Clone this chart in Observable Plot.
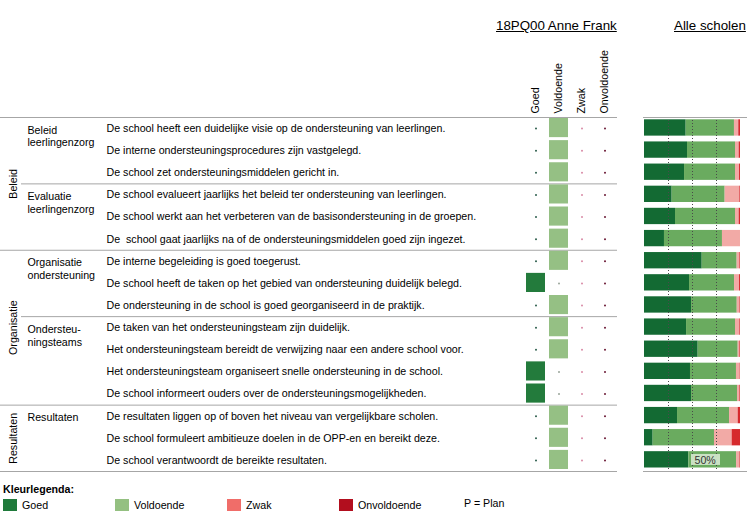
<!DOCTYPE html>
<html>
<head>
<meta charset="utf-8">
<script src="https://cdn.jsdelivr.net/npm/d3@7"></script>
<script src="https://cdn.jsdelivr.net/npm/@observablehq/plot@0.6"></script>
<style>
  html, body { margin: 0; padding: 0; background: #fff; }
  body { font-family: "Liberation Sans", Arial, sans-serif; color: #000; }
  #wrap { position: relative; width: 747px; height: 524px; overflow: hidden; }
  .abs { position: absolute; white-space: nowrap; }
  .title { font-size: 13.33px; text-decoration: underline; line-height: 15px; }
  .lg { font-size: 10.67px; line-height: 12px; }
  .sw { position: absolute; width: 14px; height: 12px; }
</style>
</head>
<body>
<div id="wrap"></div>
<script>
// ---------- data ----------
const categories = ["Goed", "Voldoende", "Zwak", "Onvoldoende"];

const items = [
  "De school heeft een duidelijke visie op de ondersteuning van leerlingen.",
  "De interne ondersteuningsprocedures zijn vastgelegd.",
  "De school zet ondersteuningsmiddelen gericht in.",
  "De school evalueert jaarlijks het beleid ter ondersteuning van leerlingen.",
  "De school werkt aan het verbeteren van de basisondersteuning in de groepen.",
  "De\u00a0 school gaat jaarlijks na of de ondersteuningsmiddelen goed zijn ingezet.",
  "De interne begeleiding is goed toegerust.",
  "De school heeft de taken op het gebied van ondersteuning duidelijk belegd.",
  "De ondersteuning in de school is goed georganiseerd in de praktijk.",
  "De taken van het ondersteuningsteam zijn duidelijk.",
  "Het ondersteuningsteam bereidt de verwijzing naar een andere school voor.",
  "Het ondersteuningsteam organiseert snelle ondersteuning in de school.",
  "De school informeert ouders over de ondersteuningsmogelijkheden.",
  "De resultaten liggen op of boven het niveau van vergelijkbare scholen.",
  "De school formuleert ambitieuze doelen in de OPP-en en bereikt deze.",
  "De school verantwoordt de bereikte resultaten."
];

const themes = [
  { label: "Beleid", start: 0, end: 6 },
  { label: "Organisatie", start: 6, end: 13 },
  { label: "Resultaten", start: 13, end: 16 }
];

const subthemes = [
  { label: "Beleid\nleerlingenzorg", start: 0, end: 3 },
  { label: "Evaluatie\nleerlingenzorg", start: 3, end: 6 },
  { label: "Organisatie\nondersteuning", start: 6, end: 9 },
  { label: "Ondersteu-\nningsteams", start: 9, end: 13 },
  { label: "Resultaten", start: 13, end: 16 }
];

// score of the school (18PQ00 Anne Frank) per item
const schoolScore = [
  "Voldoende", "Voldoende", "Voldoende", "Voldoende", "Voldoende", "Voldoende",
  "Voldoende", "Goed", "Voldoende", "Voldoende", "Voldoende", "Goed", "Goed",
  "Voldoende", "Voldoende", "Voldoende"
];

// distribution over all schools (%)
const goedPct        = [43.4, 44.8, 41.7, 28.8, 32.3, 20.8, 60.1, 46.9, 49.0, 43.8, 55.9, 47.9, 49.0, 34.4,  9.0, 46.2];
const voldoendePct   = [50.3, 50.0, 53.1, 55.2, 62.5, 60.4, 36.4, 46.9, 47.6, 51.0, 41.7, 47.9, 47.9, 54.2, 63.9, 49.7];
const zwakPct        = [ 4.5,  3.8,  4.2, 15.3,  3.8, 18.8,  2.8,  5.2,  2.8,  4.5,  1.7,  3.8,  2.4,  9.0, 18.4,  3.5];
const onvoldoendePct = [ 1.8,  1.4,  1.0,  0.7,  1.4,  0.0,  0.7,  1.0,  0.6,  0.7,  0.7,  0.4,  0.7,  2.4,  8.7,  0.6];

const gridTicks = [25, 50, 75];
const halfLabel = { x: 50, row: 15, label: "50%" };

// colours
const squareColor = { Goed: "#237b3c", Voldoende: "#95c084", Zwak: "#f06d69", Onvoldoende: "#b20e1e" };
const dotColor    = { Goed: "#2d5e4c", Voldoende: "#9aa59a", Zwak: "#d98ba6", Onvoldoende: "#6a1834" };
const barColor    = { Goed: "#136a33", Voldoende: "#6aab5f", Zwak: "#f2aaa6", Onvoldoende: "#d62a2d" };
const legendColor = { Goed: "#1f7a3b", Voldoende: "#94c081", Zwak: "#f06d69", Onvoldoende: "#b20e1e" };

// ---------- derived tables ----------
const rows = items.map((text, i) => ({ i, text }));
const cells = rows.flatMap(r => categories.map(c => ({ i: r.i, cat: c, on: schoolScore[r.i] === c })));
const pctSeries = [goedPct, voldoendePct, zwakPct, onvoldoendePct];
const stacked = rows.flatMap(r => {
  let acc = 0;
  return categories.map((c, k) => {
    const v = pctSeries[k][r.i];
    const o = { i: r.i, cat: c, x1: acc, x2: acc + v };
    acc += v;
    return o;
  });
});
const themeBounds = [...new Set(themes.flatMap(t => [t.start, t.end]))];
const subBounds = subthemes.map(s => s.start).filter(s => !themeBounds.includes(s));

const FONT = '"Liberation Sans", Arial, sans-serif';
const H = 475, MT = 117, MB = 4;

// ---------- left: labels + school matrix ----------
const left = Plot.plot({
  width: 620, height: H,
  marginTop: MT, marginBottom: MB, marginLeft: 0, marginRight: 3,
  style: { fontFamily: FONT, fontSize: "10.67px", color: "#000", background: "transparent", overflow: "visible" },
  x: { type: "band", domain: categories, range: [523.8, 617], padding: 0, axis: "top",
       tickSize: 0, tickRotate: -90, tickPadding: 4, label: null },
  y: { domain: [0, 16], reverse: true, axis: null },
  color: { type: "identity" },
  marks: [
    Plot.ruleY(themeBounds, { y: d => d, stroke: "#a6a6a6", strokeWidth: 1 }),
    Plot.ruleY(subBounds, { y: d => d, stroke: "#a6a6a6", strokeWidth: 1, insetLeft: 21 }),
    Plot.text(themes, { y: d => (d.start + d.end) / 2, text: "label", rotate: -90,
      frameAnchor: "left", textAnchor: "middle", lineAnchor: "middle", dx: 13, fill: "#000" }),
    Plot.text(subthemes, { y: d => d.start + 0.5, text: "label", frameAnchor: "left", dx: 27,
      textAnchor: "start", lineAnchor: "top", dy: -4, lineHeight: 1.2, fill: "#000" }),
    Plot.text(rows, { y: d => d.i + 0.5, text: "text", frameAnchor: "left", dx: 106,
      textAnchor: "start", fill: "#000" }),
    Plot.barY(cells.filter(d => d.on), { x: "cat", y1: "i", y2: d => d.i + 1,
      fill: d => squareColor[d.cat], insetTop: 1, insetBottom: 2, insetLeft: 2, insetRight: 2 }),
    Plot.dot(cells.filter(d => !d.on), { x: "cat", y: d => d.i + 0.5, r: 1,
      fill: d => dotColor[d.cat], stroke: null })
  ]
});

// ---------- right: all schools stacked bars ----------
const right = Plot.plot({
  width: 127, height: H,
  marginTop: MT, marginBottom: MB, marginLeft: 24, marginRight: 7,
  style: { fontFamily: FONT, fontSize: "10.67px", color: "#000", background: "transparent", overflow: "visible" },
  x: { domain: [0, 100], axis: null },
  y: { domain: [0, 16], reverse: true, axis: null },
  color: { type: "identity" },
  marks: [
    Plot.rect(stacked, { x1: "x1", x2: "x2", y1: "i", y2: d => d.i + 1,
      insetTop: 2.3, insetBottom: 3.5, fill: d => barColor[d.cat] }),
    Plot.ruleX(gridTicks, { y1: 0, y2: 16, stroke: "#4a4a4a", strokeDasharray: "1,2", strokeWidth: 1 }),
    Plot.ruleY([0, 16], { stroke: "#a6a6a6", strokeWidth: 1, insetLeft: -1, insetRight: -7 }),
    Plot.rect([halfLabel], { x1: "x", x2: "x", y1: d => d.row + 0.5, y2: d => d.row + 0.5,
      insetLeft: -1, insetRight: -28, insetTop: -6, insetBottom: -5, fill: "#d3e6cd", fillOpacity: 0.92 }),
    Plot.text([halfLabel], { x: "x", y: d => d.row + 0.5, text: "label", textAnchor: "start",
      dx: 2, fill: "#333", fontSize: 10.67 })
  ]
});

// ---------- assemble ----------
const wrap = document.getElementById("wrap");
left.style.position = "absolute"; left.style.left = "0px"; left.style.top = "0px";
right.style.position = "absolute"; right.style.left = "620px"; right.style.top = "0px";
wrap.appendChild(left);
wrap.appendChild(right);

function addDiv(cls, text, css) {
  const d = document.createElement("div");
  d.className = "abs " + cls;
  d.textContent = text;
  Object.assign(d.style, css);
  wrap.appendChild(d);
  return d;
}
addDiv("title", "18PQ00 Anne Frank", { left: "496px", top: "18px" });
addDiv("title", "Alle scholen", { left: "674px", top: "18px" });

// legend
addDiv("lg", "Kleurlegenda:", { left: "3px", top: "483px", fontWeight: "bold" });
const legendX = [3, 115, 227, 339];
categories.forEach((c, k) => {
  const s = document.createElement("div");
  s.className = "sw";
  Object.assign(s.style, { left: legendX[k] + "px", top: "499px", background: legendColor[c] });
  wrap.appendChild(s);
  addDiv("lg", c, { left: (legendX[k] + 19) + "px", top: "499px" });
});
addDiv("lg", "P = Plan", { left: "464px", top: "497px" });
</script>
</body>
</html>
